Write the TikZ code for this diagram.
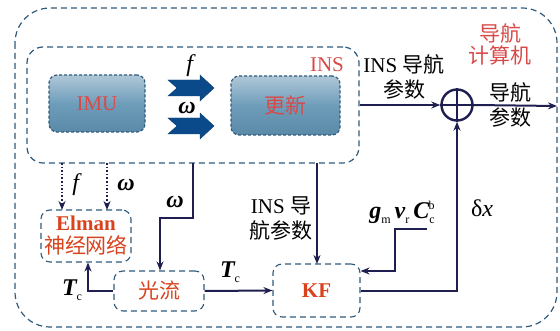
\documentclass[tikz,border=0pt]{standalone}
\usepackage{fontspec}
\setmainfont{Liberation Serif}
\newfontfamily\cjk{Noto Sans CJK SC}
\usetikzlibrary{arrows.meta}
\definecolor{bord}{HTML}{2E5A7C}
\definecolor{navy}{HTML}{1E1E50}
\definecolor{blk}{HTML}{0B4A8A}
\definecolor{redA}{HTML}{D84A48}
\definecolor{redB}{HTML}{D8431E}
\definecolor{gtop}{HTML}{AFC7D7}
\definecolor{gmid}{HTML}{6E9DBA}
\definecolor{gbot}{HTML}{5A8AA8}
\newcommand\zhtxt[1]{{\cjk #1}}
\newcommand\bi[1]{{\bfseries\itshape #1}}
\newcommand\lo[1]{\raisebox{-5pt}{\fontsize{12}{12}\selectfont #1}}
\newcommand\hi[1]{\raisebox{9pt}{\fontsize{12}{12}\selectfont #1}}
\tikzset{
  frame/.style={draw=bord, line width=1.2pt, dash pattern=on 6pt off 4pt, rounded corners=#1},
  bluebox/.style={draw=bord, line width=1.2pt, dash pattern=on 3pt off 2pt, rounded corners=8pt,
     top color=gtop, bottom color=gbot, middle color=gmid, text=redA, inner sep=0pt},
  procbox/.style={draw=bord, line width=1.1pt, dash pattern=on 6pt off 4pt, rounded corners=9pt, text=redB, inner sep=0pt},
  conn/.style={draw=navy, line width=2pt, -{Stealth[length=9pt,width=7pt]}},
  dotconn/.style={draw=navy, line width=1.6pt, dotted, -{Stealth[length=9pt,width=7pt]}},
  lab/.style={inner sep=0pt, align=center, font=\fontsize{21}{25}\selectfont},
  mlab/.style={inner sep=0pt, font=\fontsize{24}{26}\selectfont},
  blockarrow/.style={fill=blk, draw=blk!80!black, line width=0.4pt},
}
\begin{document}
\begin{tikzpicture}[x=1pt,y=-1pt]
\useasboundingbox (0,0) rectangle (560,331);
% frames
\draw[frame=35pt] (15,8) rectangle (557,327);
\node[frame=16pt, minimum width=332pt, minimum height=116pt, inner sep=0pt] (ins) at (193,105) {};
\node[text=redA, lab] (inslab) at (327,65) {INS};
\node[text=redA, lab, font=\fontsize{21}{22}\selectfont] (ncomp) at (500,44) {\zhtxt{导航}\\\zhtxt{计算机}};
% IMU and update
\node[bluebox, minimum width=96pt, minimum height=57pt, font=\fontsize{21}{22}\selectfont] (imu) at (97,103.5) {IMU};
\node[bluebox, minimum width=109pt, minimum height=59pt, font=\fontsize{21}{22}\selectfont] (upd) at (285.5,105.5) {\zhtxt{更新}};
% block arrows
\foreach \yy in {88,126}{
  \fill[blockarrow] (168,\yy-8) -- (200,\yy-8) -- (200,\yy-13) -- (214,\yy) -- (200,\yy+13) -- (200,\yy+8) -- (168,\yy+8) -- (177,\yy) -- cycle;
}
\node[mlab] (lf) at (191,66) {\textit{f}};
\node[mlab] (lw) at (187,108) {\bi{ω}};
% sum
\node[circle, draw=navy, line width=2.4pt, minimum size=31pt, inner sep=0pt] (sum) at (457,105) {};
\draw[navy, line width=2pt] (sum.north) -- (sum.south) (sum.west) -- (sum.east);
\coordinate (outend) at (557,106);
\draw[conn] (ins.east |- sum.west) -- (sum.west);
\draw[conn] (sum.east) -- (outend);
\node[lab] (l1) at (404,77) {INS \zhtxt{导航}\\\zhtxt{参数}};
\node[lab] (l2) at (510,105) {\zhtxt{导航}\\\zhtxt{参数}};
% KF
\node[procbox, minimum width=87pt, minimum height=53pt, font=\fontsize{21}{22}\selectfont\bfseries] (kf) at (316.5,290.5) {KF};
\draw[conn] (kf.east |- 0,291) -- (457,291) -- (sum.south);
\node[mlab] (ldx) at (482,208) {δ\textit{x}};
\draw[conn] (317,163) -- (317,264);
\node[lab] (l3) at (281,219) {INS \zhtxt{导}\\\zhtxt{航参数}};
\coordinate (gstart) at (427,229);
\draw[conn] (gstart) -- (395,229) -- (395,271) -- (kf.east |- 0,271);
\node[mlab] (lg) at (402,212) {\bi{g}\lo{m}\,\bi{v}\lo{r}\,\bi{C}\lo{c}\kern-6pt\hi{b}};
% Elman
\node[procbox, minimum width=90pt, minimum height=52pt, align=center, font=\fontsize{21}{23}\selectfont] (elm) at (86,236) {\textbf{Elman}\\\zhtxt{神经网络}};
\draw[dotconn] (62,163) -- (62,210);
\draw[dotconn] (107,163) -- (107,210);
\node[mlab] (lf2) at (77,185) {\textit{f}};
\node[mlab] (lw2) at (126,185) {\bi{ω}};
% optical flow
\node[procbox, minimum width=90pt, minimum height=40pt, font=\fontsize{21}{22}\selectfont] (of) at (159,291) {\zhtxt{光流}};
\draw[conn] (193,163) -- (193,218) -- (160,218) -- (of.north -| 160,0);
\node[mlab] (lw3) at (175,202) {\bi{ω}};
\draw[conn] (of.west) -- (88,291) -- (elm.south -| 88,0);
\node[mlab] (lt1) at (72,290) {\bi{T}\lo{c}};
\draw[conn] (of.east) -- (kf.west);
\node[mlab] (lt2) at (230,272) {\bi{T}\lo{c}};
\end{tikzpicture}
\end{document}
